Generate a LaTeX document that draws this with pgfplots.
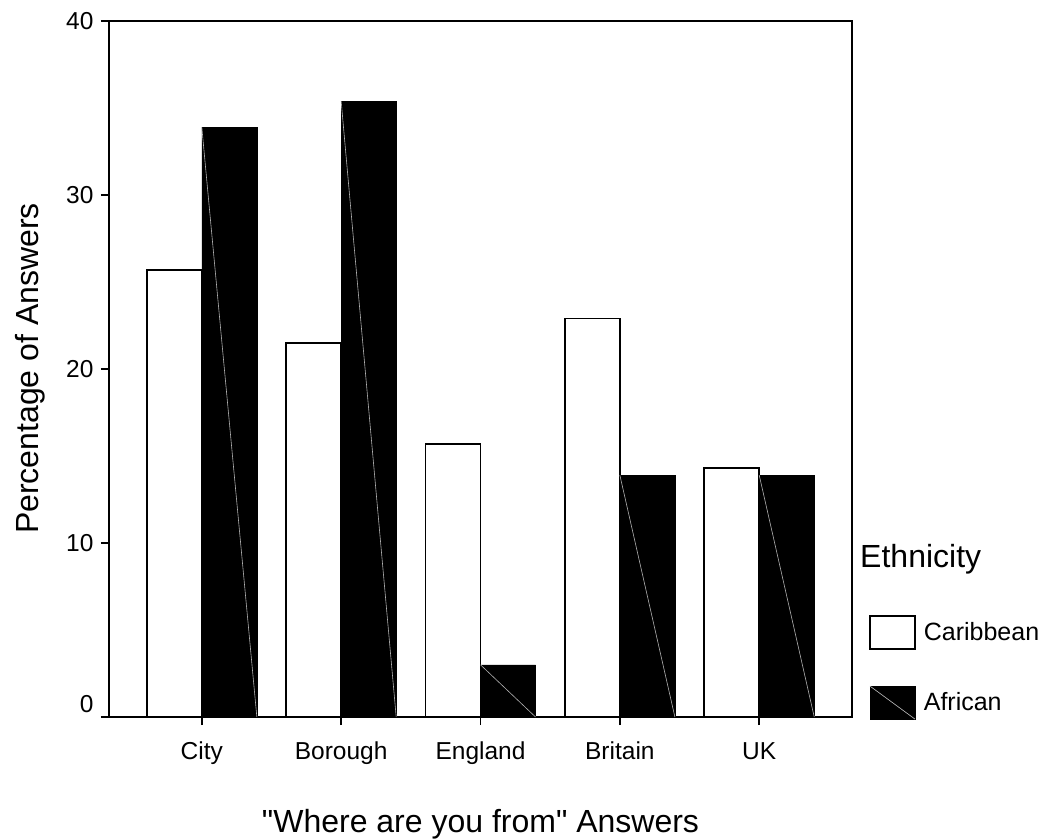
\documentclass[border=0pt]{standalone}
\usepackage{fontspec}
\setmainfont{Liberation Sans}[Ligatures=TeXOff]
\usepackage{pgfplots}
\pgfplotsset{compat=1.18}

\begin{document}
\begin{tikzpicture}
\useasboundingbox (-109pt,-121pt) rectangle (931pt,717pt);
\begin{axis}[
  at={(0pt,0pt)}, anchor=south west,
  width=743pt, height=696pt, scale only axis,
  clip=false,
  xmin=-0.666, xmax=4.666, ymin=0, ymax=40,
  ybar, bar width=0.395,
  xtick={0,1,2,3,4},
  xticklabels={City,Borough,England,Britain,UK},
  ytick={0,10,20,30,40},
  yticklabels={\raisebox{13pt}{0},10,20,30,40},
  xtick pos=bottom, ytick pos=left, tick align=outside,
  major tick length=8pt,
  axis line style={line width=2pt},
  every tick/.style={black, line width=1.5pt},
  /pgf/number format/assume math mode=true,
  ticklabel style={font=\fontsize{24.5}{28}\selectfont},
  yticklabel style={anchor=base east, yshift=-8.5pt, xshift=-4pt},
  xticklabel style={anchor=base, yshift=-34.7pt},
  xlabel={"Where are you from" Answers},
  ylabel={Percentage of Answers},
  every axis x label/.style={at={(axis description cs:0.5,-0.1662)}, anchor=base,
    font=\fontsize{32}{38}\selectfont},
  every axis y label/.style={at={(axis description cs:-0.1063,0.5007)}, rotate=90, anchor=center,
    font=\fontsize{32}{38}\selectfont},
  legend style={draw=none, fill=none, inner sep=0pt, outer sep=0pt,
    at={(axis description cs:1.0229,0.1466)}, anchor=north west,
    font=\fontsize{25}{30}\selectfont,
    nodes={inner sep=0pt},
    row sep=36pt, column sep=8pt, cells={anchor=west}},
]
\addplot[bar shift=-0.1975, fill=white, draw=black, line width=1.8pt,
  legend image code/.code={\draw[fill=white, draw=black, line width=1.8pt] (0pt,-16.5pt) rectangle (45pt,16.5pt);}]
  coordinates {(0,25.7) (1,21.5) (2,15.7) (3,22.9) (4,14.3)};
\addplot[bar shift=0.1975, fill=black, draw=black, line width=0.5pt,
  legend image code/.code={\fill[black] (0pt,-16.5pt) rectangle (45pt,16.5pt);
    \draw[gray!60, line width=0.6pt] (0pt,16.5pt) -- (45pt,-16.5pt);}]
  coordinates {(0,33.9) (1,35.4) (2,3.0) (3,13.9) (4,13.9)};
% faint diagonals inside the black bars
\addplot[sharp plot, forget plot, gray!60, line width=0.6pt] coordinates {(0,33.9) (0.395,0)};
\addplot[sharp plot, forget plot, gray!60, line width=0.6pt] coordinates {(1,35.4) (1.395,0)};
\addplot[sharp plot, forget plot, gray!60, line width=0.6pt] coordinates {(2,3.0) (2.395,0)};
\addplot[sharp plot, forget plot, gray!60, line width=0.6pt] coordinates {(3,13.9) (3.395,0)};
\addplot[sharp plot, forget plot, gray!60, line width=0.6pt] coordinates {(4,13.9) (4.395,0)};
\legend{Caribbean, African}
\node[anchor=base west, inner sep=0pt, font=\fontsize{32}{38}\selectfont]
  at (axis description cs:1.0108,0.2151) {Ethnicity};
\end{axis}
\end{tikzpicture}
\end{document}
